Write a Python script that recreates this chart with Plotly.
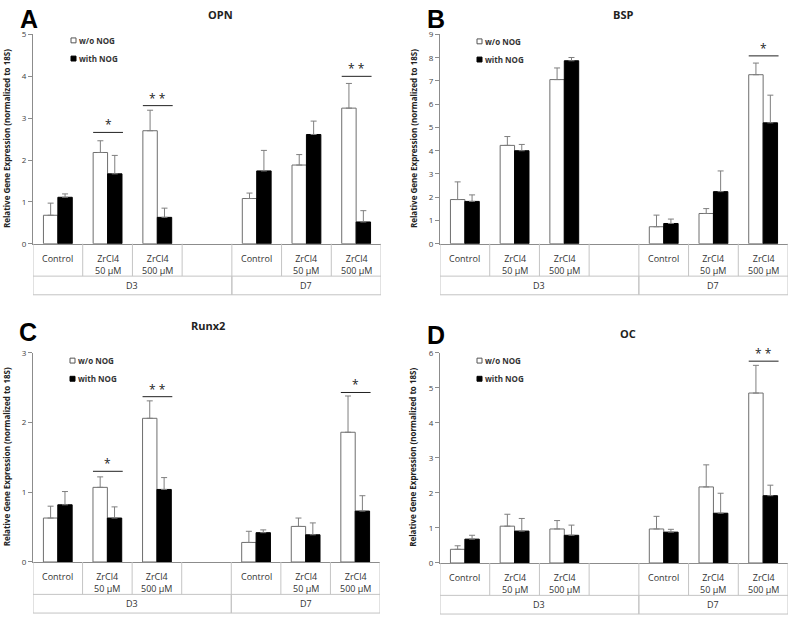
import plotly.graph_objects as go

W, H = 792, 621

# ---------------- data ----------------
categories = ["Control", "ZrCl4<br>50 µM", "ZrCl4<br>500 µM", "",
              "Control", "ZrCl4<br>50 µM", "ZrCl4<br>500 µM"]
groups = ["D3", "D7"]
group_spans = [(0, 3), (4, 6)]
series_names = ["w/o NOG", "with NOG"]

opn_wo = [0.68, 2.18, 2.70, None, 1.08, 1.88, 3.24]
opn_wo_err = [0.29, 0.28, 0.49, None, 0.13, 0.25, 0.59]
opn_with = [1.11, 1.67, 0.63, None, 1.74, 2.61, 0.52]
opn_with_err = [0.08, 0.44, 0.22, None, 0.49, 0.32, 0.27]
opn_sig = [(1, 2.66, "*"), (2, 3.30, "* *"), (6, 4.00, "* *")]

bsp_wo = [1.90, 4.23, 7.06, None, 0.73, 1.30, 7.27]
bsp_wo_err = [0.76, 0.38, 0.50, None, 0.50, 0.21, 0.50]
bsp_with = [1.82, 4.00, 7.87, None, 0.87, 2.24, 5.20]
bsp_with_err = [0.28, 0.27, 0.14, None, 0.19, 0.89, 1.19]
bsp_sig = [(6, 8.08, "*")]

runx2_wo = [0.63, 1.07, 2.06, None, 0.28, 0.51, 1.86]
runx2_wo_err = [0.17, 0.15, 0.25, None, 0.16, 0.12, 0.52]
runx2_with = [0.82, 0.63, 1.04, None, 0.42, 0.39, 0.73]
runx2_with_err = [0.19, 0.16, 0.17, None, 0.04, 0.17, 0.22]
runx2_sig = [(1, 1.30, "*"), (2, 2.37, "* *"), (6, 2.43, "*")]

oc_wo = [0.39, 1.05, 0.97, None, 0.97, 2.17, 4.85]
oc_wo_err = [0.10, 0.34, 0.24, None, 0.36, 0.63, 0.79]
oc_with = [0.68, 0.91, 0.79, None, 0.88, 1.42, 1.92]
oc_with_err = [0.11, 0.36, 0.29, None, 0.08, 0.57, 0.30]
oc_sig = [(6, 5.76, "* *")]

panel_letters = ["A", "B", "C", "D"]
panel_titles = ["OPN", "BSP", "Runx2", "OC"]
y_max = [5, 9, 3, 6]
y_title = "Relative Gene Expression (normalized to 18S)"

# ---------------- layout geometry (pixels) ----------------
panels = [
    dict(x0=33, x1=381, yt=29, yb=242, tx=220, ty=9, lx=29, ly=13, legx=71, legy=35,
         wo=opn_wo, woe=opn_wo_err, wi=opn_with, wie=opn_with_err, sig=opn_sig),
    dict(x0=440, x1=788, yt=29, yb=242, tx=623, ty=9, lx=436, ly=13, legx=477, legy=36,
         wo=bsp_wo, woe=bsp_wo_err, wi=bsp_with, wie=bsp_with_err, sig=bsp_sig),
    dict(x0=33, x1=380, yt=353, yb=566, tx=208, ty=325, lx=28, ly=332, legx=70, legy=361,
         wo=runx2_wo, woe=runx2_wo_err, wi=runx2_with, wie=runx2_with_err, sig=runx2_sig),
    dict(x0=440, x1=788, yt=353, yb=567, tx=628, ty=333, lx=436, ly=335, legx=477, legy=361,
         wo=oc_wo, woe=oc_wo_err, wi=oc_with, wie=oc_with_err, sig=oc_sig),
]

FONT = "Open Sans"
AXIS_GREY = "#8c8c8c"
TABLE_GREY = "#c4c4c4"
ERR_GREY = "#7f7f7f"


def px(x):
    return x / W


def py(y):
    return 1 - y / H


fig = go.Figure()
shapes = []
annotations = []
xs = list(range(len(categories)))
layout_axes = {}

for i, p in enumerate(panels):
    n = "" if i == 0 else str(i + 1)
    xa, ya = "x" + n, "y" + n
    fig.add_trace(go.Bar(
        x=xs, y=p["wo"], name=series_names[0], xaxis=xa, yaxis=ya,
        marker=dict(color="white", line=dict(color="#6e6e6e", width=1)),
        error_y=dict(type="data", array=p["woe"], arrayminus=[0] * len(xs), symmetric=False,
                     color=ERR_GREY, thickness=1, width=3),
        showlegend=False))
    fig.add_trace(go.Bar(
        x=xs, y=p["wi"], name=series_names[1], xaxis=xa, yaxis=ya,
        marker=dict(color="black", line=dict(color="black", width=1)),
        error_y=dict(type="data", array=p["wie"], arrayminus=[0] * len(xs), symmetric=False,
                     color=ERR_GREY, thickness=1, width=3),
        showlegend=False))

    layout_axes["xaxis" + n] = dict(
        domain=[px(p["x0"]), px(p["x1"])], range=[-0.5, len(categories) - 0.5],
        showticklabels=False, ticks="", showgrid=False, zeroline=False,
        showline=True, linecolor=AXIS_GREY, linewidth=1, anchor=ya, fixedrange=True)
    layout_axes["yaxis" + n] = dict(
        domain=[py(p["yb"]), py(p["yt"])], range=[0, y_max[i]], dtick=1,
        showgrid=False, zeroline=False, showline=True, linecolor=AXIS_GREY, linewidth=1,
        ticks="outside", ticklen=4, tickcolor=AXIS_GREY, anchor=xa,
        tickfont=dict(family=FONT, size=8, color="#404040"), fixedrange=True)

    # category table below the axis
    row1 = p["yb"] + 33
    row2 = p["yb"] + 52
    for k in range(len(categories) + 1):
        shapes.append(dict(type="line", xref=xa, yref="paper", x0=k - 0.5, x1=k - 0.5,
                           y0=py(p["yb"]), y1=py(row1), line=dict(color=TABLE_GREY, width=1)))
    for a, b in group_spans:
        for xv in (a - 0.5, b + 0.5):
            shapes.append(dict(type="line", xref=xa, yref="paper", x0=xv, x1=xv,
                               y0=py(row1), y1=py(row2), line=dict(color=TABLE_GREY, width=1)))
    for yy in (row1, row2):
        shapes.append(dict(type="line", xref=xa, yref="paper", x0=-0.5,
                           x1=len(categories) - 0.5, y0=py(yy), y1=py(yy),
                           line=dict(color=TABLE_GREY, width=1)))
    for k, lab in enumerate(categories):
        if lab:
            annotations.append(dict(text=lab, xref=xa, yref="paper", x=k, y=py(p["yb"] + 6),
                                    xanchor="center", yanchor="top", showarrow=False,
                                    font=dict(family=FONT, size=9, color="#333")))
    for g, (a, b) in zip(groups, group_spans):
        annotations.append(dict(text=g, xref=xa, yref="paper", x=(a + b) / 2,
                                y=py(p["yb"] + 42.5), xanchor="center", yanchor="middle",
                                showarrow=False, font=dict(family=FONT, size=9, color="#333")))

    # significance bars
    for c, yv, lab in p["sig"]:
        shapes.append(dict(type="line", xref=xa, yref=ya, x0=c - 0.29, x1=c + 0.31,
                           y0=yv, y1=yv, line=dict(color="#222", width=1)))
        annotations.append(dict(text=lab, xref=xa, yref=ya, x=c + 0.01, y=yv,
                                xanchor="center", yanchor="bottom", yshift=-3,
                                showarrow=False, font=dict(family=FONT, size=12, color="#222")))

    # titles
    annotations.append(dict(text="<b>" + panel_titles[i] + "</b>", xref="paper", yref="paper",
                            x=px(p["tx"]), y=py(p["ty"]), xanchor="center", yanchor="middle",
                            showarrow=False, font=dict(family=FONT, size=11, color="#222")))
    annotations.append(dict(text="<b>" + panel_letters[i] + "</b>", xref="paper", yref="paper",
                            x=px(p["lx"]), y=py(p["ly"]), xanchor="center", yanchor="middle",
                            showarrow=False,
                            font=dict(family="Liberation Sans", size=25, color="black")))
    annotations.append(dict(text="<b>" + y_title + "</b>", xref="paper", yref="paper",
                            x=px(p["x0"] - 27), y=py((p["yt"] + p["yb"]) / 2),
                            xanchor="center", yanchor="middle", textangle=-90,
                            showarrow=False, font=dict(family=FONT, size=8, color="#222")))

    # legend (drawn manually, small swatches)
    for j, (nm, fill, edge) in enumerate(zip(series_names, ["white", "black"], ["#555", "black"])):
        yc = p["legy"] + j * 18.5
        shapes.append(dict(type="rect", xref="paper", yref="paper",
                           x0=px(p["legx"]), x1=px(p["legx"] + 5),
                           y0=py(yc + 2.5), y1=py(yc - 2.5),
                           fillcolor=fill, line=dict(color=edge, width=1)))
        annotations.append(dict(text="<b>" + nm + "</b>", xref="paper", yref="paper",
                                x=px(p["legx"] + 6), y=py(yc), xanchor="left", yanchor="middle",
                                showarrow=False, font=dict(family=FONT, size=8, color="#333")))

fig.update_layout(
    width=W, height=H, margin=dict(l=0, r=0, t=0, b=0),
    paper_bgcolor="white", plot_bgcolor="white",
    barmode="group", bargap=0.42, bargroupgap=0,
    shapes=shapes, annotations=annotations, showlegend=False,
    **layout_axes)

fig.write_html("out.html", config=dict(displayModeBar=False),
               post_script="document.body.style.margin='0';document.body.style.overflow='hidden';")
